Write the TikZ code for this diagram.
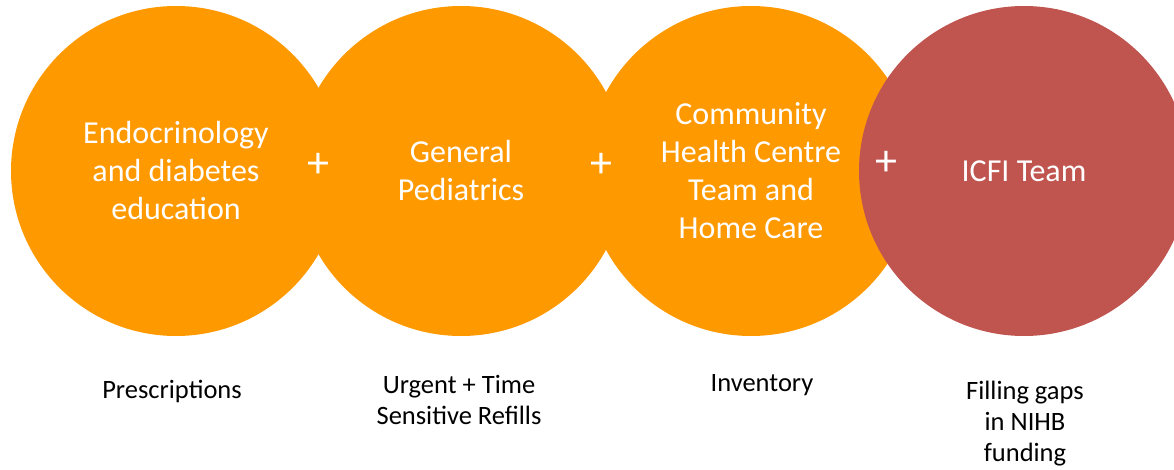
\documentclass[tikz,border=0pt]{standalone}
\usepackage{fontspec}
\setmainfont{Carlito}
\usetikzlibrary{
positioning,
shapes.geometric
}
\definecolor{kreisorange}{RGB}{255,153,0}
\definecolor{kreisrot}{RGB}{192,85,80}

\begin{document}
\begin{tikzpicture}
[x=1pt, y=-1pt,
block_kreis/.style ={circle, fill=kreisorange, draw=none, minimum size=330pt, inner sep=0pt, text=white, align=center, font=\fontsize{32}{38}\selectfont},
block_team/.style ={block_kreis, fill=kreisrot},
plus_sign/.style ={text=white, font=\fontsize{44}{44}\selectfont, inner sep=0pt},
label_text/.style ={text=black, align=center, font=\fontsize{26.5}{31}\selectfont, inner sep=0pt}]

\useasboundingbox (0,0) rectangle (1174,470);

\begin{scope}
\clip (0,0) rectangle (1174,470);
%Kreise
\node [block_kreis] (c1) at (176,171) {Endocrinology\\and diabetes\\education};
\node [block_kreis] (c2) at (461,171) {General\\Pediatrics};
\node [block_kreis] (c3) at (751,171) {Community\\Health Centre\\Team and\\Home Care};
\node [block_team]  (c4) at (1024,171) {ICFI Team};
\end{scope}

%Pluszeichen
\node [plus_sign] (p1) at (318,165) {+};
\node [plus_sign] (p2) at (601,165) {+};
\node [plus_sign] (p3) at (886,163) {+};

%Beschriftung unten
\node [label_text] (l1) at (172,391) {Prescriptions};
\node [label_text] (l2) at (459,400) {Urgent + Time\\Sensitive Refills};
\node [label_text] (l3) at (762,385) {Inventory};
\node [label_text] (l4) at (1025,424) {Filling gaps\\in NIHB\\funding};

\end{tikzpicture}
\end{document}
